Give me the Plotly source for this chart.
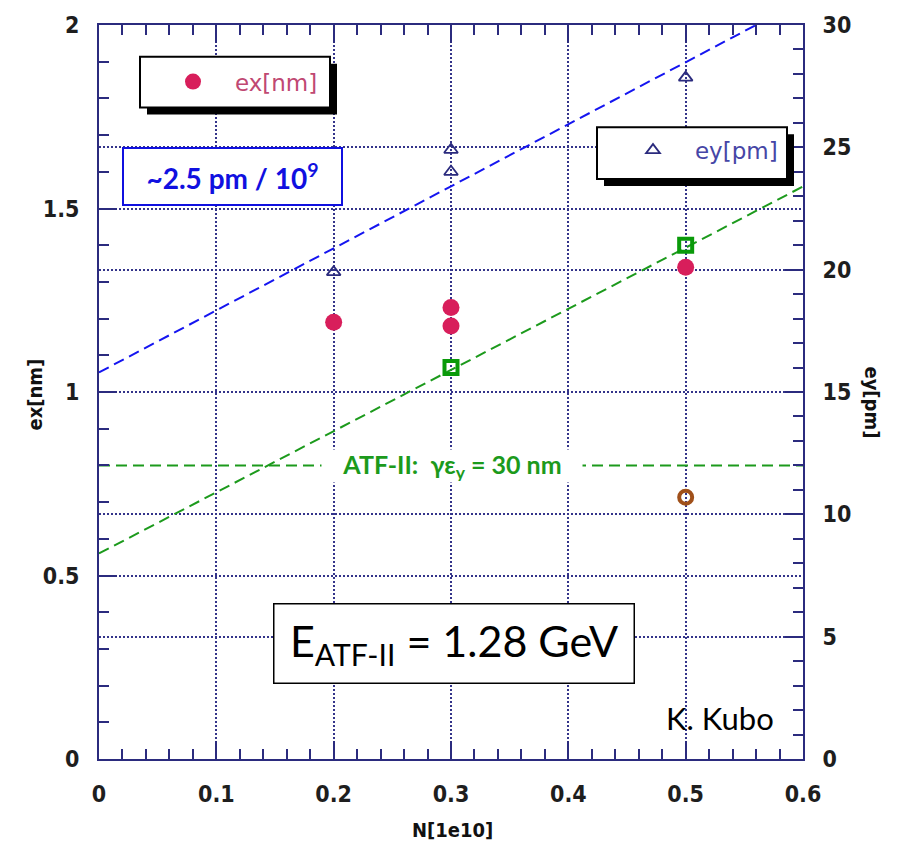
import plotly.graph_objects as go

# ---------------- data ----------------
ex_N = [0.2, 0.3, 0.3, 0.5]
ex_nm = [1.19, 1.23, 1.18, 1.34]

ey_N = [0.2, 0.3, 0.3, 0.5]
ey_pm = [19.9, 24.9, 24.0, 27.85]

green_N = [0.3, 0.5]
green_pm = [16.0, 21.0]

brown_N = [0.5]
brown_pm = [10.7]

blue_fit_N = [0.0, 0.56]
blue_fit_pm = [15.8, 30.0]

green_fit_N = [0.0, 0.6]
green_fit_pm = [8.4, 23.4]

atf2_N = [0.0, 0.6]
atf2_ex = [0.8, 0.8]

x_ticks = [0, 0.1, 0.2, 0.3, 0.4, 0.5, 0.6]
x_ticklabels = ["0", "0.1", "0.2", "0.3", "0.4", "0.5", "0.6"]
yl_ticks = [0, 0.5, 1, 1.5, 2]
yl_ticklabels = ["0", "0.5", "1", "1.5", "2"]
yr_ticks = [0, 5, 10, 15, 20, 25, 30]
yr_ticklabels = ["0", "5", "10", "15", "20", "25", "30"]

# ---------------- layout geometry (pixels) ----------------
W, H = 899, 847
L, R, T, B = 99, 803, 20, 759


def px(x):
    return (x - L) / (R - L)


def py(y):
    return (B - y) / (B - T)


NAVY = "#2b2b7e"
GRID = "#34348a"
NARROW = "DejaVu Sans Condensed, Liberation Sans Narrow, DejaVu Sans"
TICKFONT = dict(family=NARROW, size=23, color="#1e1e1e", weight="bold")
TITLEFONT = dict(family=NARROW, size=20, color="#111111", weight="bold")
CALIBRI = "Lato, Open Sans, sans-serif"
NB = "\u00a0"

fig = go.Figure()

fig.add_trace(go.Scatter(x=blue_fit_N, y=blue_fit_pm, yaxis="y2", mode="lines",
                         line=dict(color="#1515f0", width=2, dash="11px,6px"), showlegend=False))
fig.add_trace(go.Scatter(x=green_fit_N, y=green_fit_pm, yaxis="y2", mode="lines",
                         line=dict(color="#1c9a1c", width=2, dash="11px,6px"), showlegend=False))
fig.add_trace(go.Scatter(x=atf2_N, y=atf2_ex, mode="lines",
                         line=dict(color="#1c9a1c", width=2, dash="11px,6px"), showlegend=False))

fig.add_trace(go.Scatter(x=ex_N, y=ex_nm, mode="markers", name=NB * 3 + "ex[nm]",
                         marker=dict(symbol="circle", size=17, color="#d81e5b"),
                         legend="legend"))
fig.add_trace(go.Scatter(x=ey_N, y=ey_pm, yaxis="y2", mode="markers", name=NB * 3 + "ey[pm]",
                         marker=dict(symbol="triangle-up-open", size=12, color=NAVY,
                                     line=dict(width=1.8, color=NAVY)),
                         legend="legend2"))
fig.add_trace(go.Scatter(x=green_N, y=green_pm, yaxis="y2", mode="markers",
                         marker=dict(symbol="square-open", size=13, color="#0a9a0a",
                                     line=dict(width=4, color="#0a9a0a")), showlegend=False))
fig.add_trace(go.Scatter(x=brown_N, y=brown_pm, yaxis="y2", mode="markers",
                         marker=dict(symbol="circle-open", size=13, color="#a0501a",
                                     line=dict(width=4, color="#a0501a")), showlegend=False))

shapes = []
# legend boxes with shadows
for (x0, y0, x1, y1) in [(140, 52, 330, 103), (597, 123, 787, 175)]:
    shapes.append(dict(type="rect", xref="paper", yref="paper", layer="above",
                       x0=px(x0 + 7), x1=px(x1 + 7), y0=py(y0 + 7), y1=py(y1 + 7),
                       fillcolor="black", line=dict(width=0)))
    shapes.append(dict(type="rect", xref="paper", yref="paper", layer="above",
                       x0=px(x0), x1=px(x1), y0=py(y0), y1=py(y1),
                       fillcolor="white", line=dict(color="black", width=2)))


def ann(text, x, y, **kw):
    d = dict(text=text, xref="paper", yref="paper", x=px(x), y=py(y),
             xanchor="center", yanchor="middle", showarrow=False)
    d.update(kw)
    return d


annotations = [
    ann("<b>~2.5 pm / 10<sup>9</sup></b>", 232.5, 172.5, width=215, height=53,
        font=dict(family=CALIBRI, size=28, color="#1010e0"),
        bgcolor="white", bordercolor="#1010e0", borderwidth=2, borderpad=1),
    ann("<b>ATF-II:  γε<sub>y</sub> = 30 nm</b>", 452, 464, width=258, height=30,
        font=dict(family=CALIBRI, size=25, color="#1c9a1c"), bgcolor="white"),
    ann("E<sub>ATF-II</sub> = 1.28 GeV", 453.5, 642.5, width=357, height=76,
        font=dict(family=CALIBRI, size=43, color="black"),
        bgcolor="white", bordercolor="black", borderwidth=1.5, borderpad=1),
    ann("K. Kubo", 720, 718, font=dict(family=CALIBRI, size=31, color="black")),
    ann("ex[nm]", 35, 392, textangle=-90, font=TITLEFONT),
    ann("ey[pm]", 872, 400, textangle=90, font=TITLEFONT),
    ann("N[1e10]", 452, 830, font=TITLEFONT),
]

common_axis = dict(showline=True, linecolor=NAVY, linewidth=2,
                   ticks="inside", ticklen=18, tickwidth=1.5, tickcolor=NAVY,
                   tickfont=TICKFONT, ticklabelstandoff=13,
                   showgrid=True, gridcolor=GRID, gridwidth=1.6, griddash="2px,2px",
                   zeroline=False)

fig.update_layout(
    width=W, height=H,
    margin=dict(l=L, r=W - R, t=T, b=H - B),
    paper_bgcolor="white", plot_bgcolor="white",
    xaxis=dict(range=[0, 0.6], tickvals=x_ticks, ticktext=x_ticklabels, mirror="ticks",
               minor=dict(ticks="inside", ticklen=10, dtick=0.02, tickcolor=NAVY,
                          tickwidth=1.5, showgrid=False),
               **common_axis),
    yaxis=dict(range=[0, 2], tickvals=yl_ticks, ticktext=yl_ticklabels, mirror=False,
               minor=dict(ticks="inside", ticklen=10, dtick=0.1, tickcolor=NAVY,
                          tickwidth=1.5, showgrid=False),
               **common_axis),
    yaxis2=dict(range=[0, 30], overlaying="y", side="right",
                tickvals=yr_ticks, ticktext=yr_ticklabels,
                minor=dict(ticks="inside", ticklen=10, dtick=1, tickcolor=NAVY,
                           tickwidth=1.5, showgrid=False),
                **common_axis),
    legend=dict(x=px(173), y=py(77), xanchor="left", yanchor="middle",
                bgcolor="rgba(0,0,0,0)", borderwidth=0,
                font=dict(family="DejaVu Sans, sans-serif", size=23, color="#c04872")),
    legend2=dict(x=px(633), y=py(146), xanchor="left", yanchor="middle",
                 bgcolor="rgba(0,0,0,0)", borderwidth=0,
                 font=dict(family="DejaVu Sans, sans-serif", size=23, color="#4646a6")),
    shapes=shapes,
    annotations=annotations,
)

fig.write_html("out.html")
